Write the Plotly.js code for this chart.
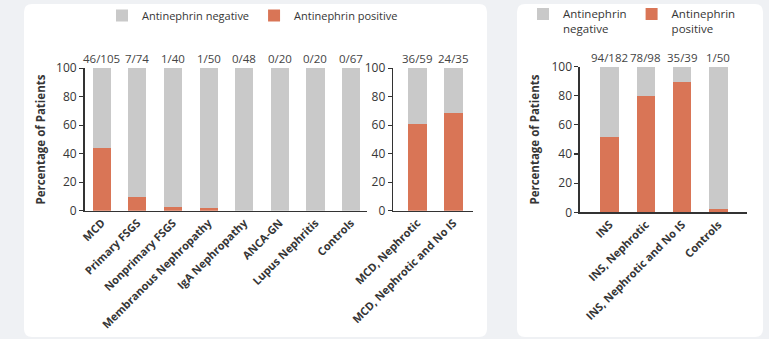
<!DOCTYPE html>
<html>
<head>
<meta charset="utf-8">
<script src="https://cdn.plot.ly/plotly-3.0.1.min.js"></script>
<style>html,body{margin:0;padding:0;background:#eff1f4;}#chart{width:769px;height:339px;}</style>
</head>
<body>
<div id="chart"></div>
<script>
// Panel A: disease groups
const catsA = ["MCD", "Primary FSGS", "Nonprimary FSGS", "Membranous Nephropathy", "IgA Nephropathy", "ANCA-GN", "Lupus Nephritis", "Controls"];
const posA = [43.8, 9.5, 2.5, 2.0, 0, 0, 0, 0];
const negA = [56.2, 90.5, 97.5, 98.0, 100, 100, 100, 100];
const fracA = ["46/105", "7/74", "1/40", "1/50", "0/48", "0/20", "0/20", "0/67"];

// Panel B: MCD subgroups
const catsB = ["MCD, Nephrotic", "MCD, Nephrotic and No IS"];
const posB = [61.0, 68.6];
const negB = [39.0, 31.4];
const fracB = ["36/59", "24/35"];

// Panel C: INS groups
const catsC = ["INS", "INS, Nephrotic", "INS, Nephrotic and No IS", "Controls"];
const posC = [51.6, 79.6, 89.7, 2.0];
const negC = [48.4, 20.4, 10.3, 98.0];
const fracC = ["94/182", "78/98", "35/39", "1/50"];

const yTicks = [0, 20, 40, 60, 80, 100];

const W = 769, H = 339;
const FONT = "'Open Sans', sans-serif";
const TXT = "#363636";
const GRAY = "#c9c9c9";
const ORANGE = "#d97556";

function px(x){ return x / W; }
function py(y){ return 1 - y / H; }

const traces = [];
function addPanel(cats, pos, neg, xa, ya, legendName, namePos, nameNeg, show){
  traces.push({type:"bar", x:cats, y:pos, xaxis:xa, yaxis:ya, name:namePos,
    marker:{color:ORANGE}, width:0.51, showlegend:show, legend:legendName, hoverinfo:"skip"});
  traces.push({type:"bar", x:cats, y:neg, xaxis:xa, yaxis:ya, name:nameNeg,
    marker:{color:GRAY}, width:0.51, showlegend:show, legend:legendName, hoverinfo:"skip"});
}
addPanel(catsA, posA, negA, "x", "y", "legend", "Antinephrin positive", "Antinephrin negative", true);
addPanel(catsB, posB, negB, "x2", "y2", "legend", "Antinephrin positive", "Antinephrin negative", false);
addPanel(catsC, posC, negC, "x3", "y3", "legend2", "Antinephrin<br>positive", "Antinephrin<br>negative", true);

function xAxis(domain, range, anchor){
  return {domain:domain, range:range, anchor:anchor, type:"category",
    showline:true, linecolor:"#333", linewidth:1.6, ticks:"", showgrid:false, zeroline:false,
    tickangle:-45, tickfont:{family:FONT, size:11, color:TXT, weight:"bold"}, fixedrange:true};
}
function yAxis(domain, anchor){
  return {domain:domain, range:[0,100], anchor:anchor,
    showline:true, linecolor:"#333", linewidth:1.6, ticks:"outside", ticklen:4, tickwidth:1.2, tickcolor:"#333",
    tickvals:yTicks, showgrid:false, zeroline:false,
    tickfont:{family:FONT, size:12, color:TXT}, fixedrange:true};
}

const annotations = [];
function fracLabels(cats, fr, xa, ya){
  cats.forEach((c,i)=>{
    annotations.push({x:c, y:100, xref:xa, yref:ya, text:fr[i], showarrow:false,
      yanchor:"bottom", yshift:0, font:{family:FONT, size:11.5, color:"#444"}});
  });
}
fracLabels(catsA, fracA, "x", "y");
fracLabels(catsB, fracB, "x2", "y2");
fracLabels(catsC, fracC, "x3", "y3");

annotations.push({x:px(41), y:py(139), xref:"paper", yref:"paper", xanchor:"center", yanchor:"middle",
  text:"Percentage of Patients", textangle:-90, showarrow:false,
  font:{family:FONT, size:11.5, color:TXT, weight:"bold"}});
annotations.push({x:px(535), y:py(139), xref:"paper", yref:"paper", xanchor:"center", yanchor:"middle",
  text:"Percentage of Patients", textangle:-90, showarrow:false,
  font:{family:FONT, size:11.5, color:TXT, weight:"bold"}});

function roundRect(x0,y0,x1,y1,r){
  const X0=px(x0), X1=px(x1), Y0=py(y0), Y1=py(y1), rx=r/W, ry=r/H;
  return `M${X0+rx},${Y0} L${X1-rx},${Y0} Q${X1},${Y0} ${X1},${Y0-ry} L${X1},${Y1+ry} Q${X1},${Y1} ${X1-rx},${Y1} L${X0+rx},${Y1} Q${X0},${Y1} ${X0},${Y1+ry} L${X0},${Y0-ry} Q${X0},${Y0} ${X0+rx},${Y0} Z`;
}
const shapes = [
  {type:"path", xref:"paper", yref:"paper", path:roundRect(24,3,487,337,8), fillcolor:"#ffffff", line:{width:0}, layer:"below"},
  {type:"path", xref:"paper", yref:"paper", path:roundRect(517,3,763,337,8), fillcolor:"#ffffff", line:{width:0}, layer:"below"}
];

const layout = {
  width:W, height:H, margin:{l:0,r:0,t:0,b:0},
  paper_bgcolor:"#eff1f4", plot_bgcolor:"rgba(0,0,0,0)",
  barmode:"stack", bargap:0.49,
  font:{family:FONT, color:TXT},
  xaxis: xAxis([px(84.7), px(366.7)], [-0.48, 7.44], "y"),
  yaxis: yAxis([py(210.3), py(67.3)], "x"),
  xaxis2: xAxis([px(393.3), px(473.3)], [-0.67, 1.55], "y2"),
  yaxis2: yAxis([py(210.3), py(67.3)], "x2"),
  xaxis3: xAxis([px(580), px(746.7)], [-0.82, 3.78], "y3"),
  yaxis3: yAxis([py(212), py(65.7)], "x3"),
  legend:{orientation:"h", x:px(102), xanchor:"left", y:py(1), yanchor:"top",
    traceorder:"reversed", bgcolor:"rgba(0,0,0,0)", font:{family:FONT, size:11, color:TXT}},
  legend2:{orientation:"h", x:px(523), xanchor:"left", y:py(-1), yanchor:"top", valign:"top",
    traceorder:"reversed", bgcolor:"rgba(0,0,0,0)", font:{family:FONT, size:11.5, color:TXT}},
  annotations:annotations, shapes:shapes
};

Plotly.newPlot("chart", traces, layout, {staticPlot:true, displayModeBar:false});
</script>
</body>
</html>
